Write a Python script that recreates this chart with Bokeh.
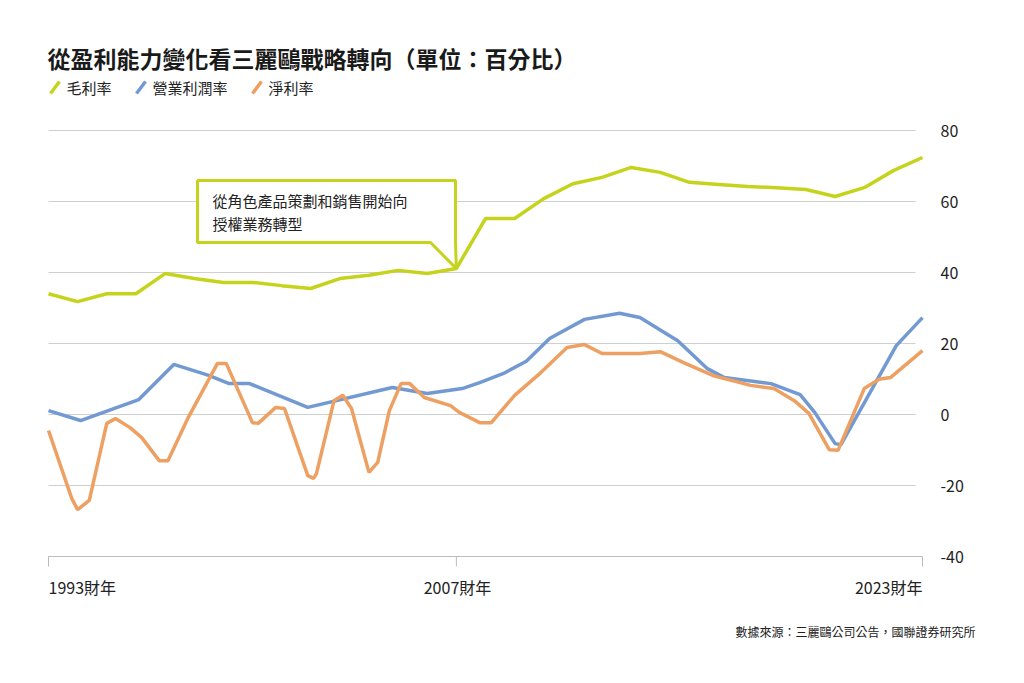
from bokeh.core.properties import value
from bokeh.embed import file_html
from bokeh.models import Label, PolyAnnotation, Range1d
from bokeh.plotting import figure
from bokeh.resources import INLINE

FONT = "Noto Sans CJK TC"

years = list(range(1993, 2024))
gross = [34, 31.8, 34, 34, 39.7, 38.3, 37.2, 37.2, 36.3, 35.5, 38.3, 39.2, 40.6,
         39.7, 41.1, 55.2, 55.2, 60.8, 65, 66.8, 69.6, 68.2, 65.4, 64.8, 64.2,
         63.9, 63.4, 61.4, 63.9, 68.7, 72.4]

op_x = [1993, 1994.1, 1996.1, 1997.3, 1998.5, 1999.2, 1999.9, 2001.9, 2004.8,
        2006.0, 2007.2, 2007.8, 2008.6, 2009.4, 2010.2, 2011.4, 2012.6, 2013.3,
        2014.6, 2015.6, 2016.2, 2017.8, 2018.8, 2019.3, 2020.0, 2020.2, 2022.1,
        2023]
op_y = [1.1, -1.7, 4.2, 14.1, 11, 8.7, 8.7, 2, 7.6, 5.9, 7.3, 9, 11.5, 15, 21.4,
        26.8, 28.5, 27.3, 20.8, 13, 10.4, 8.7, 5.6, 0.6, -8.2, -8.5, 19.4, 27.3]

net_x = [1993.0, 1993.8, 1994.0, 1994.4, 1995.0, 1995.3, 1995.8, 1996.2, 1996.8,
         1997.1, 1997.8, 1998.8, 1999.1, 2000.0, 2000.2, 2000.8, 2001.1, 2001.9,
         2002.1, 2002.2, 2002.8, 2003.1, 2003.4, 2004.0, 2004.3, 2004.7, 2005.1,
         2005.4, 2005.9, 2006.8, 2007.1, 2007.8, 2008.2, 2009.0, 2009.9, 2010.8,
         2011.4, 2012.0, 2013.3, 2014.0, 2014.8, 2015.8, 2017.1, 2017.9, 2018.6,
         2019.1, 2019.8, 2020.1, 2021.0, 2021.5, 2021.9, 2023.0]
net_y = [-4.5, -23.7, -26.8, -24.2, -2.5, -1.1, -3.7, -6.5, -13, -13, -0.8, 14.4,
         14.4, -2.3, -2.5, 2, 1.7, -17.2, -18, -16.6, 3.9, 5.4, 1.7, -16.3, -13.5,
         1.1, 8.7, 8.7, 4.8, 2.5, 0.6, -2.3, -2.3, 5.4, 11.8, 18.9, 19.7, 17.2,
         17.2, 17.7, 14.6, 11, 8.2, 7.3, 3.9, 0.3, -9.9, -10.1, 7.3, 9.9, 10.4, 18]

y_ticks = [-40, -20, 0, 20, 40, 60, 80]
x_ticks = [1993, 2007, 2023]
x_labels = ["1993財年", "2007財年", "2023財年"]

GREEN = "#c5d31c"
BLUE = "#7299d1"
ORANGE = "#eda062"

W, H = 1016, 675
XPX, YPX = 874 / 30, 426 / 120  # pixels per year / per percent
X0 = 1993 - 48 / XPX
Y0 = 80 + 130 / YPX


def sx(px):
    return X0 + px / XPX


def sy(py):
    return Y0 - py / YPX


p = figure(width=W, height=H, output_backend="svg", toolbar_location=None,
           x_range=Range1d(X0, sx(W)), y_range=Range1d(sy(H), Y0),
           min_border=0, outline_line_color=None)
p.axis.visible = False
p.grid.visible = False

# grid lines and axes
p.segment(x0=[1993] * len(y_ticks), x1=[sx(915)] * len(y_ticks), y0=y_ticks,
          y1=y_ticks, color="#cfcfcf", line_width=1)
p.segment(x0=[1993], x1=[2023], y0=[-40], y1=[-40], color="#bbbbbb", line_width=1)
p.segment(x0=x_ticks, x1=x_ticks, y0=[-40] * 3, y1=[sy(566)] * 3,
          color="#bbbbbb", line_width=1)
p.text(x=[sx(940)] * len(y_ticks), y=y_ticks, text=[str(v) for v in y_ticks],
       text_font=value(FONT), text_font_size="16px", text_color="#222222",
       text_baseline="middle")

p.line(years, gross, color=GREEN, line_width=3.5)
p.line(op_x, op_y, color=BLUE, line_width=3.5)
p.line(net_x, net_y, color=ORANGE, line_width=3.5)

# callout box
p.add_layout(PolyAnnotation(
    xs=[sx(197), sx(455), sx(455), 2007, sx(430), sx(197)],
    ys=[sy(180), sy(180), sy(242), 41.1, sy(242), sy(242)],
    fill_color="white", fill_alpha=1, line_color=GREEN, line_alpha=1, line_width=3))


def slabel(x, y, text, color="#222222", **kw):
    p.add_layout(Label(x=sx(x), y=sy(y), text=text, text_font=FONT,
                       text_color=color, text_baseline="middle", **kw))


slabel(212, 200, "從角色產品策劃和銷售開始向", text_font_size="15px")
slabel(212, 223, "授權業務轉型", text_font_size="15px")

for px, t, al in zip([48, 457, 922], x_labels, ["left", "center", "right"]):
    slabel(px, 586, t, text_font_size="16px", text_align=al)

slabel(47, 57, "從盈利能力變化看三麗鷗戰略轉向（單位：百分比）",
       text_font_size="23px", text_font_style="bold", color="#1a1a1a")

legend = [("毛利率", GREEN, 50), ("營業利潤率", BLUE, 136), ("淨利率", ORANGE, 252)]
for t, c, px in legend:
    p.segment(x0=[sx(px)], x1=[sx(px + 9)], y0=[sy(93)], y1=[sy(81)], color=c,
              line_width=3.5)
    slabel(px + 16, 87, t, text_font_size="15px")

slabel(975, 631, "數據來源：三麗鷗公司公告，國聯證券研究所", text_font_size="12px",
       text_align="right")

open("out.html", "w").write(file_html(p, INLINE))
